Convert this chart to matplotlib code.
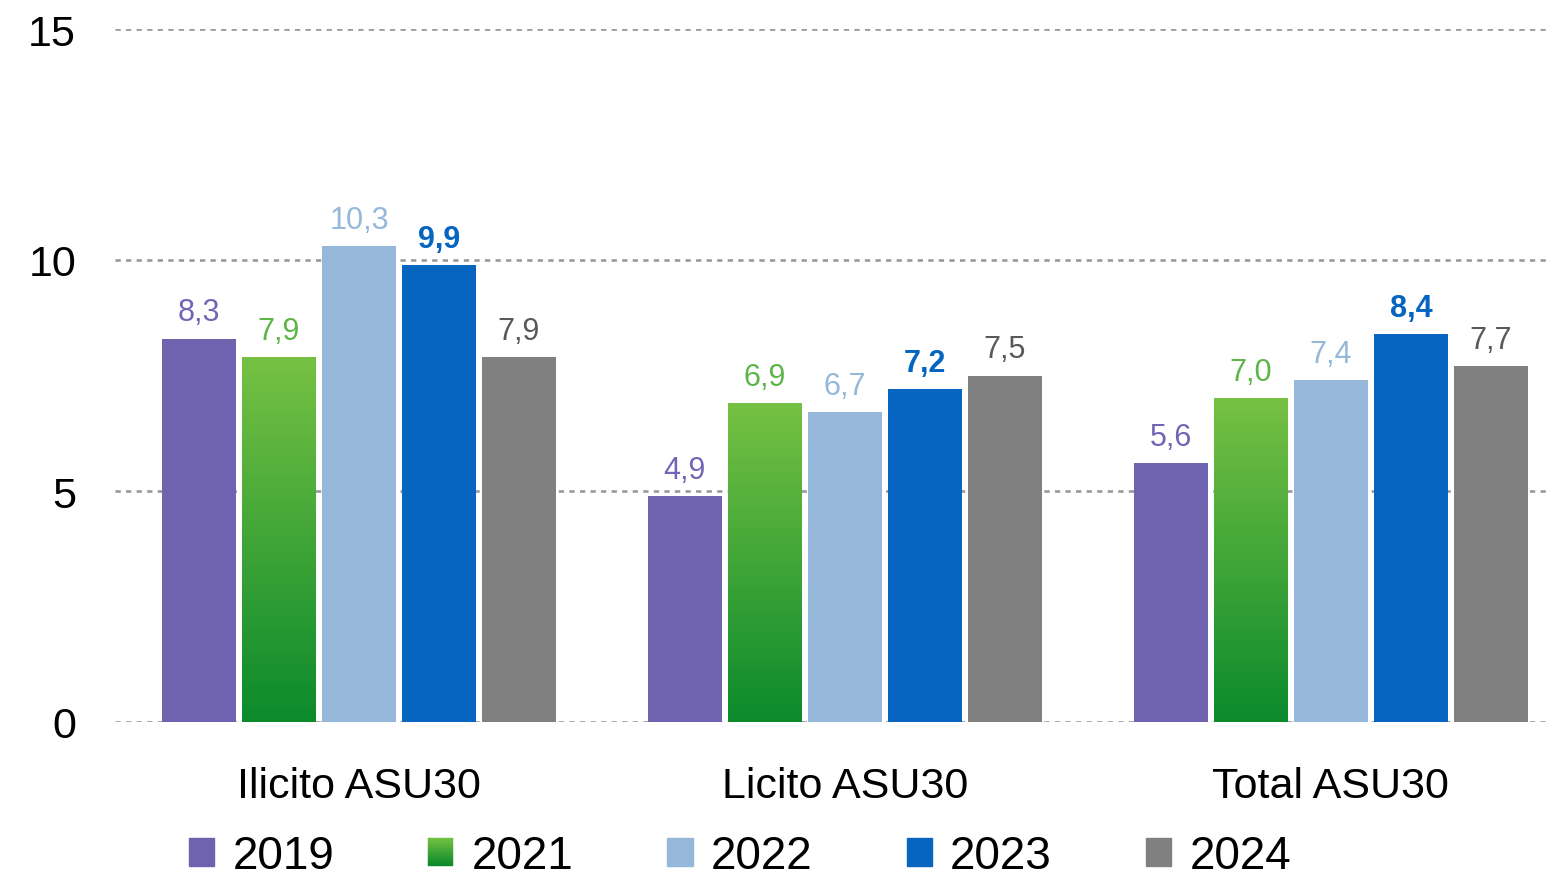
import numpy as np
import matplotlib
matplotlib.use("Agg")
import matplotlib.pyplot as plt
from matplotlib.patches import Rectangle
from matplotlib.legend_handler import HandlerBase
from matplotlib.colors import LinearSegmentedColormap

plt.rcParams['font.family'] = ['Liberation Sans', 'DejaVu Sans']

categories = ['Ilicito ASU30', 'Licito ASU30', 'Total ASU30']
years = ['2019', '2021', '2022', '2023', '2024']
v2019 = [8.3, 4.9, 5.6]
v2021 = [7.9, 6.9, 7.0]
v2022 = [10.3, 6.7, 7.4]
v2023 = [9.9, 7.2, 8.4]
v2024 = [7.9, 7.5, 7.7]
series = [v2019, v2021, v2022, v2023, v2024]

bar_colors = ['#6F62AE', '#3FA53A', '#95B8DA', '#0565C1', '#808080']
label_colors = ['#7464B4', '#5DB548', '#95B8DA', '#0565C1', '#595959']
green_top, green_bot = '#76C143', '#0B8A2C'
gmap = LinearSegmentedColormap.from_list('g', [green_bot, green_top])

fig = plt.figure(figsize=(15.53, 8.79), dpi=100)
ax = fig.add_axes([115/1553, 1-723/879, 1435/1553, 693/879])

x = np.arange(len(categories))
step = 0.1646
width = 0.152
grad = np.linspace(0, 1, 256).reshape(-1, 1)

for i, vals in enumerate(series):
    pos = x + (i - 2) * step
    bars = ax.bar(pos, vals, width, color=bar_colors[i], zorder=3)
    if i == 1:
        # gradient fill, one image per bar
        for b in bars:
            b.set_facecolor('none')
            b.set_edgecolor('none')
            ax.imshow(grad, cmap=gmap, origin='lower', aspect='auto',
                      extent=(b.get_x(), b.get_x() + b.get_width(), 0, b.get_height()),
                      zorder=3)
    for p, v in zip(pos, vals):
        ax.annotate(f'{v:.1f}'.replace('.', ','), (p, v), xytext=(0, 8),
                    textcoords='offset points', ha='center', va='bottom',
                    fontsize=22, color=label_colors[i],
                    fontweight='bold' if i == 3 else 'normal')

ax.set_xlim(-0.502, 2.451)
ax.set_ylim(0, 15)
ax.set_yticks([0, 5, 10, 15])
ax.set_xticks(x)
ax.set_xticklabels(categories, fontsize=31)
ax.tick_params(axis='y', labelsize=31, length=0, pad=28, labelcolor='#000000')
ax.tick_params(axis='x', length=0, pad=32)
ax.yaxis.grid(True, color='#999999', linestyle=(0, (2.0, 2.0)), linewidth=1.9, zorder=0)
ax.set_axisbelow(True)
for s in ax.spines.values():
    s.set_visible(False)


class GradHandler(HandlerBase):
    def create_artists(self, legend, orig_handle, xdescent, ydescent, width, height, fontsize, trans):
        arts = []
        n = 20
        for k in range(n):
            c = gmap(1 - (k + 0.5) / n)
            r = Rectangle((-xdescent, -ydescent + height * (1 - (k + 1) / n)), width, height / n,
                          facecolor=c, edgecolor=c, linewidth=0.3, transform=trans)
            arts.append(r)
        return arts


handles = [Rectangle((0, 0), 1, 1, color=c) for c in bar_colors]
grad_handle = Rectangle((0, 0), 1, 1, color='g')
handles[1] = grad_handle
leg = fig.legend(handles, years, loc='center left', bbox_to_anchor=(166/1553, 1-857/879),
                 ncol=5, frameon=False, fontsize=33, handlelength=0.55, handleheight=0.55,
                 handletextpad=0.4, columnspacing=2.05, borderpad=0,
                 handler_map={grad_handle: GradHandler()})

fig.savefig('out.png', dpi=100)
